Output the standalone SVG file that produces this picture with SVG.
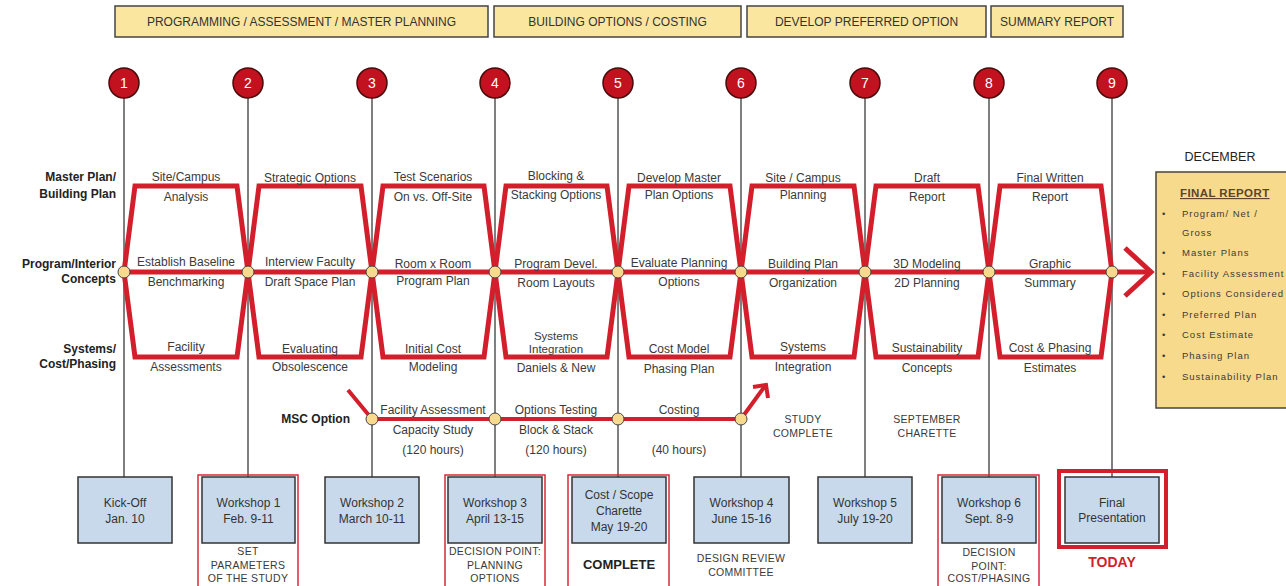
<svg xmlns="http://www.w3.org/2000/svg" width="1286" height="586" viewBox="0 0 1286 586">
<style>
text{font-family:"Liberation Sans",Arial,sans-serif;fill:#3a3a3a}
.hdr{fill:#fbe6a0;stroke:#444;stroke-width:1.5}
.hdrt{font-size:12px;text-anchor:middle;fill:#333}
.num{fill:#c3121f;stroke:#4a0a0a;stroke-width:1.5}
.numt{font-size:14px;fill:#fff;text-anchor:middle}
.vl{stroke:#555;stroke-width:1.5;fill:none}
.band{fill:none;stroke:#d21f2b;stroke-width:5;stroke-linejoin:miter}
.jn{fill:#f8da8e;stroke:#444;stroke-width:1}
.lbl{font-size:12px;font-weight:bold;text-anchor:end;fill:#222}
.ct{font-size:12px;text-anchor:middle}
.sm{font-size:10.5px;text-anchor:middle;letter-spacing:0.3px}
.box{fill:#c8d9eb;stroke:#333;stroke-width:1.5}
.rbox{fill:none;stroke:#d8283a;stroke-width:1.5}
.bt{font-size:12px;text-anchor:middle;fill:#333}
.fr{font-size:9.5px;letter-spacing:1px;fill:#7a6040}
</style>

<g id="headers">
<rect class="hdr" x="115" y="6" width="373" height="31"/>
<text class="hdrt" x="301.5" y="26">PROGRAMMING / ASSESSMENT / MASTER PLANNING</text>
<rect class="hdr" x="494" y="6" width="247" height="31"/>
<text class="hdrt" x="617.5" y="26">BUILDING OPTIONS / COSTING</text>
<rect class="hdr" x="747" y="6" width="239" height="31"/>
<text class="hdrt" x="866.5" y="26">DEVELOP PREFERRED OPTION</text>
<rect class="hdr" x="991" y="6" width="132" height="31"/>
<text class="hdrt" x="1057" y="26">SUMMARY REPORT</text>
</g>

<g id="connectors">
<line class="vl" x1="124" y1="98" x2="124" y2="477"/>
<line class="vl" x1="248" y1="98" x2="248" y2="477"/>
<line class="vl" x1="372" y1="98" x2="372" y2="477"/>
<line class="vl" x1="495" y1="98" x2="495" y2="477"/>
<line class="vl" x1="618" y1="98" x2="618" y2="477"/>
<line class="vl" x1="741" y1="98" x2="741" y2="477"/>
<line class="vl" x1="865" y1="98" x2="865" y2="477"/>
<line class="vl" x1="989" y1="98" x2="989" y2="477"/>
<line class="vl" x1="1112" y1="98" x2="1112" y2="477"/>
<path class="band" d="M124,272 L135,186 L237,186 L248,272 L237,357 L135,357 Z"/>
<path class="band" d="M248,272 L259,186 L361,186 L372,272 L361,357 L259,357 Z"/>
<path class="band" d="M372,272 L383,186 L484,186 L495,272 L484,357 L383,357 Z"/>
<path class="band" d="M495,272 L506,186 L607,186 L618,272 L607,357 L506,357 Z"/>
<path class="band" d="M618,272 L629,186 L730,186 L741,272 L730,357 L629,357 Z"/>
<path class="band" d="M741,272 L752,186 L854,186 L865,272 L854,357 L752,357 Z"/>
<path class="band" d="M865,272 L876,186 L978,186 L989,272 L978,357 L876,357 Z"/>
<path class="band" d="M989,272 L1000,186 L1101,186 L1112,272 L1101,357 L1000,357 Z"/>
<line class="band" x1="124" y1="272" x2="1150" y2="272"/>
<path class="band" d="M1125,248 L1151,272 L1125,296"/>
<path class="band" style="stroke-width:4" d="M348,390 L372,419 L741,419 L765,386"/>
<path class="band" style="stroke-width:4" d="M753,387 L766,385 L768,398"/>
</g>

<g id="junctions">
<circle class="jn" cx="124" cy="272" r="6"/>
<circle class="jn" cx="248" cy="272" r="6"/>
<circle class="jn" cx="372" cy="272" r="6"/>
<circle class="jn" cx="495" cy="272" r="6"/>
<circle class="jn" cx="618" cy="272" r="6"/>
<circle class="jn" cx="741" cy="272" r="6"/>
<circle class="jn" cx="865" cy="272" r="6"/>
<circle class="jn" cx="989" cy="272" r="6"/>
<circle class="jn" cx="1112" cy="272" r="6"/>
<circle class="jn" cx="372" cy="419" r="6"/>
<circle class="jn" cx="495" cy="419" r="6"/>
<circle class="jn" cx="618" cy="419" r="6"/>
<circle class="jn" cx="741" cy="419" r="6"/>
</g>

<g id="milestones">
<g id="m1"><circle class="num" cx="124" cy="83" r="15"/><text class="numt" x="124" y="88">1</text></g>
<g id="m2"><circle class="num" cx="248" cy="83" r="15"/><text class="numt" x="248" y="88">2</text></g>
<g id="m3"><circle class="num" cx="372" cy="83" r="15"/><text class="numt" x="372" y="88">3</text></g>
<g id="m4"><circle class="num" cx="495" cy="83" r="15"/><text class="numt" x="495" y="88">4</text></g>
<g id="m5"><circle class="num" cx="618" cy="83" r="15"/><text class="numt" x="618" y="88">5</text></g>
<g id="m6"><circle class="num" cx="741" cy="83" r="15"/><text class="numt" x="741" y="88">6</text></g>
<g id="m7"><circle class="num" cx="865" cy="83" r="15"/><text class="numt" x="865" y="88">7</text></g>
<g id="m8"><circle class="num" cx="989" cy="83" r="15"/><text class="numt" x="989" y="88">8</text></g>
<g id="m9"><circle class="num" cx="1112" cy="83" r="15"/><text class="numt" x="1112" y="88">9</text></g>
</g>

<g id="row-labels">
<text class="lbl" x="116" y="181">Master Plan/</text>
<text class="lbl" x="116" y="198">Building Plan</text>
<text class="lbl" x="116" y="268">Program/Interior</text>
<text class="lbl" x="116" y="283">Concepts</text>
<text class="lbl" x="116" y="353">Systems/</text>
<text class="lbl" x="116" y="368">Cost/Phasing</text>
<text class="lbl" x="350" y="423">MSC Option</text>
</g>

<g id="cell-texts">
<text class="ct" x="186" y="181">Site/Campus</text>
<text class="ct" x="186" y="201">Analysis</text>
<text class="ct" x="186" y="266">Establish Baseline</text>
<text class="ct" x="186" y="286">Benchmarking</text>
<text class="ct" x="186" y="351">Facility</text>
<text class="ct" x="186" y="371">Assessments</text>

<text class="ct" x="310" y="182">Strategic Options</text>
<text class="ct" x="310" y="266">Interview Faculty</text>
<text class="ct" x="310" y="286">Draft Space Plan</text>
<text class="ct" x="310" y="353">Evaluating</text>
<text class="ct" x="310" y="371">Obsolescence</text>

<text class="ct" x="433" y="181">Test Scenarios</text>
<text class="ct" x="433" y="201">On vs. Off-Site</text>
<text class="ct" x="433" y="268">Room x Room</text>
<text class="ct" x="433" y="285">Program Plan</text>
<text class="ct" x="433" y="353">Initial Cost</text>
<text class="ct" x="433" y="371">Modeling</text>

<text class="ct" x="556" y="180">Blocking &amp;</text>
<text class="ct" x="556" y="199">Stacking Options</text>
<text class="ct" x="556" y="268">Program Devel.</text>
<text class="ct" x="556" y="287">Room Layouts</text>
<text class="ct" x="556" y="340" style="font-size:11.5px">Systems</text>
<text class="ct" x="556" y="353" style="font-size:11.5px">Integration</text>
<text class="ct" x="556" y="372">Daniels &amp; New</text>

<text class="ct" x="679" y="182">Develop Master</text>
<text class="ct" x="679" y="199">Plan Options</text>
<text class="ct" x="679" y="267">Evaluate Planning</text>
<text class="ct" x="679" y="286">Options</text>
<text class="ct" x="679" y="353">Cost Model</text>
<text class="ct" x="679" y="373">Phasing Plan</text>

<text class="ct" x="803" y="182">Site / Campus</text>
<text class="ct" x="803" y="199">Planning</text>
<text class="ct" x="803" y="268">Building Plan</text>
<text class="ct" x="803" y="287">Organization</text>
<text class="ct" x="803" y="351">Systems</text>
<text class="ct" x="803" y="371">Integration</text>

<text class="ct" x="927" y="182">Draft</text>
<text class="ct" x="927" y="201">Report</text>
<text class="ct" x="927" y="268">3D Modeling</text>
<text class="ct" x="927" y="287">2D Planning</text>
<text class="ct" x="927" y="352">Sustainability</text>
<text class="ct" x="927" y="372">Concepts</text>

<text class="ct" x="1050" y="182">Final Written</text>
<text class="ct" x="1050" y="201">Report</text>
<text class="ct" x="1050" y="268">Graphic</text>
<text class="ct" x="1050" y="287">Summary</text>
<text class="ct" x="1050" y="352">Cost &amp; Phasing</text>
<text class="ct" x="1050" y="372">Estimates</text>

<text class="ct" x="433" y="414">Facility Assessment</text>
<text class="ct" x="433" y="434">Capacity Study</text>
<text class="ct" x="433" y="454">(120 hours)</text>
<text class="ct" x="556" y="414">Options Testing</text>
<text class="ct" x="556" y="434">Block &amp; Stack</text>
<text class="ct" x="556" y="454">(120 hours)</text>
<text class="ct" x="679" y="414">Costing</text>
<text class="ct" x="679" y="454">(40 hours)</text>

<text class="sm" x="803" y="423">STUDY</text>
<text class="sm" x="803" y="437">COMPLETE</text>
<text class="sm" x="927" y="423">SEPTEMBER</text>
<text class="sm" x="927" y="437">CHARETTE</text>
</g>

<g id="kickoff">
<rect class="box" x="78" y="477" width="94" height="66"/>
<text class="bt" x="125" y="507">Kick-Off</text>
<text class="bt" x="125" y="523">Jan. 10</text>
</g>
<g id="workshop1">
<rect class="rbox" x="198" y="475" width="100" height="120"/>
<rect class="box" x="202" y="477" width="93" height="66"/>
<text class="bt" x="248.5" y="507">Workshop 1</text>
<text class="bt" x="248.5" y="523">Feb. 9-11</text>
<text class="sm" x="248" y="555">SET</text>
<text class="sm" x="248" y="569">PARAMETERS</text>
<text class="sm" x="248" y="582">OF THE STUDY</text>
</g>
<g id="workshop2">
<rect class="box" x="325" y="477" width="94" height="66"/>
<text class="bt" x="372" y="507">Workshop 2</text>
<text class="bt" x="372" y="523">March 10-11</text>
</g>
<g id="workshop3">
<rect class="rbox" x="445" y="475" width="100" height="120"/>
<rect class="box" x="448" y="477" width="94" height="66"/>
<text class="bt" x="495" y="507">Workshop 3</text>
<text class="bt" x="495" y="523">April 13-15</text>
<text class="sm" x="495" y="555">DECISION POINT:</text>
<text class="sm" x="495" y="569">PLANNING</text>
<text class="sm" x="495" y="582">OPTIONS</text>
</g>
<g id="charette">
<rect class="rbox" x="568" y="475" width="101" height="120"/>
<rect class="box" x="572" y="477" width="94" height="66"/>
<text class="bt" x="619" y="499">Cost / Scope</text>
<text class="bt" x="619" y="515">Charette</text>
<text class="bt" x="619" y="531">May 19-20</text>
<text class="bt" x="619" y="569" style="font-size:13px;font-weight:bold;fill:#222">COMPLETE</text>
</g>
<g id="workshop4">
<rect class="box" x="694" y="477" width="95" height="66"/>
<text class="bt" x="741.5" y="507">Workshop 4</text>
<text class="bt" x="741.5" y="523">June 15-16</text>
<text class="sm" x="741" y="562">DESIGN REVIEW</text>
<text class="sm" x="741" y="576">COMMITTEE</text>
</g>
<g id="workshop5">
<rect class="box" x="818" y="477" width="94" height="66"/>
<text class="bt" x="865" y="507">Workshop 5</text>
<text class="bt" x="865" y="523">July 19-20</text>
</g>
<g id="workshop6">
<rect class="rbox" x="938" y="475" width="101" height="120"/>
<rect class="box" x="942" y="477" width="94" height="66"/>
<text class="bt" x="989" y="507">Workshop 6</text>
<text class="bt" x="989" y="523">Sept. 8-9</text>
<text class="sm" x="989" y="556">DECISION</text>
<text class="sm" x="989" y="570">POINT:</text>
<text class="sm" x="989" y="582">COST/PHASING</text>
</g>
<g id="final-presentation">
<rect x="1059" y="471" width="107" height="76" fill="none" stroke="#d21f2b" stroke-width="4"/>
<rect class="box" x="1065" y="477" width="94" height="66"/>
<text class="bt" x="1112" y="507">Final</text>
<text class="bt" x="1112" y="522">Presentation</text>
<text x="1112" y="567" style="font-size:14px;font-weight:bold;fill:#d21f2b;text-anchor:middle">TODAY</text>
</g>

<g id="final-report">
<text x="1220" y="161" style="font-size:12.5px;text-anchor:middle;fill:#222">DECEMBER</text>
<rect x="1156" y="172" width="134" height="236" fill="#f8da8c" stroke="#444" stroke-width="1.5"/>
<text x="1180" y="197" style="font-size:11.5px;letter-spacing:0.4px;fill:#5e4428;font-weight:bold;text-decoration:underline">FINAL REPORT</text>
<g class="fr">
<text x="1162" y="217">•</text><text x="1182" y="217">Program/ Net /</text>
<text x="1182" y="236">Gross</text>
<text x="1162" y="256">•</text><text x="1182" y="256">Master Plans</text>
<text x="1162" y="277">•</text><text x="1182" y="277">Facility Assessment</text>
<text x="1162" y="297">•</text><text x="1182" y="297">Options Considered</text>
<text x="1162" y="318">•</text><text x="1182" y="318">Preferred Plan</text>
<text x="1162" y="338">•</text><text x="1182" y="338">Cost Estimate</text>
<text x="1162" y="359">•</text><text x="1182" y="359">Phasing Plan</text>
<text x="1162" y="380">•</text><text x="1182" y="380">Sustainability Plan</text>
</g>
</g>
</svg>
